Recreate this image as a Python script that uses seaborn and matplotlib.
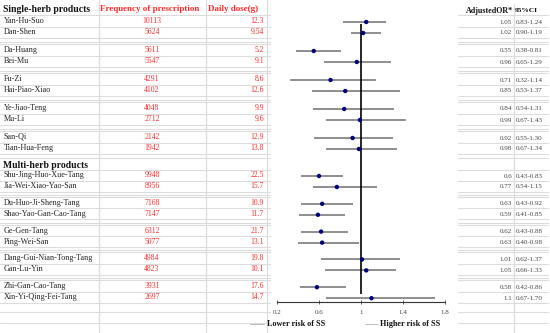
import matplotlib.pyplot as plt
import seaborn as sns
import pandas as pd

# Table data
single_names = ['Yan-Hu-Suo', 'Dan-Shen', 'Da-Huang', 'Bei-Mu', 'Fu-Zi',
                'Hai-Piao-Xiao', 'Ye-Jiao-Teng', 'Mu-Li', 'San-Qi', 'Tian-Hua-Feng']
single_freq = [10113, 5624, 5611, 5547, 4291, 4102, 4048, 2712, 2142, 1942]
single_dose = ['12.3', '9.54', '5.2', '9.1', '8.6', '12.6', '9.9', '9.6', '12.9', '13.8']
single_or = ['1.05', '1.02', '0.55', '0.96', '0.71', '0.85', '0.84', '0.99', '0.92', '0.98']
single_ci = ['0.83-1.24', '0.90-1.19', '0.38-0.81', '0.65-1.29', '0.32-1.14',
             '0.53-1.37', '0.54-1.31', '0.67-1.43', '0.55-1.30', '0.67-1.34']

multi_names = ['Shu-Jing-Huo-Xue-Tang', 'Jia-Wei-Xiao-Yao-San', 'Du-Huo-Ji-Sheng-Tang',
               'Shao-Yao-Gan-Cao-Tang', 'Ge-Gen-Tang', 'Ping-Wei-San',
               'Dang-Gui-Nian-Tong-Tang', 'Gan-Lu-Yin', 'Zhi-Gan-Cao-Tang', 'Xin-Yi-Qing-Fei-Tang']
multi_freq = [9948, 8956, 7168, 7147, 6312, 5077, 4984, 4823, 3931, 2697]
multi_dose = ['22.5', '15.7', '10.9', '11.7', '21.7', '13.1', '19.8', '10.1', '17.6', '14.7']
multi_or = ['0.6', '0.77', '0.63', '0.59', '0.62', '0.63', '1.01', '1.05', '0.58', '1.1']
multi_ci = ['0.43-0.83', '0.54-1.15', '0.43-0.92', '0.41-0.85', '0.43-0.88',
            '0.40-0.98', '0.62-1.37', '0.66-1.33', '0.42-0.86', '0.67-1.70']

ticks = [0.2, 0.6, 1, 1.4, 1.8]
tick_labels = ['0.2', '0.6', '1', '1.4', '1.8']

sns.set_theme(style='white')
plt.rcParams['font.family'] = ['Liberation Serif', 'DejaVu Serif']

RED = '#ff2b2b'
GRID = '#dcdcdc'


# row positions in pixels: pairs of rows separated by a gap row
def row_positions(start, pitch, inner=11):
    return [start + pitch * g + k * inner for g in range(5) for k in range(2)]


single_y = row_positions(21, 29)
multi_y = row_positions(175, 27.8)

rows = pd.DataFrame({
    'name': single_names + multi_names,
    'freq': single_freq + multi_freq,
    'dose': single_dose + multi_dose,
    'or_txt': single_or + multi_or,
    'ci': single_ci + multi_ci,
    'y': single_y + multi_y,
})
rows['OR'] = rows['or_txt'].astype(float)
rows['lo'] = rows['ci'].str.split('-').str[0].astype(float)
rows['hi'] = rows['ci'].str.split('-').str[1].astype(float)

fig = plt.figure(figsize=(5.5, 3.33), dpi=100)
fig.patch.set_facecolor('white')

# table layer, pixel coordinates
ax = fig.add_axes([0, 0, 1, 1])
ax.set_xlim(0, 550)
ax.set_ylim(333, 0)
ax.axis('off')

# grid lines
hlines = [15, 158, 170, 312, 323]
for ys in (single_y, multi_y):
    for g in range(5):
        first = ys[2 * g]
        if g > 0:
            hlines += [first - 8, first - 6]
        hlines += [first + 5.5, ys[2 * g + 1] + 5.5]
for y in hlines:
    ax.plot([0, 270], [y, y], color=GRID, lw=0.8, zorder=1)
    ax.plot([458, 548], [y, y], color=GRID, lw=0.8, zorder=1)
for x in [99, 206, 267]:
    ax.plot([x, x], [0, 333], color=GRID, lw=0.9, zorder=1)
ax.plot([514, 514], [4, 333], color=GRID, lw=0.9, zorder=1)

# headers
ax.text(3, 9, 'Single-herb products', fontsize=6.9, fontweight='bold', color='#111', va='center')
ax.text(3, 166, 'Multi-herb products', fontsize=6.9, fontweight='bold', color='#111', va='center')
ax.text(100, 9, 'Frequency of prescription', fontsize=6.5, fontweight='bold', color=RED, va='center')
ax.text(208, 9, 'Daily dose(g)', fontsize=6.5, fontweight='bold', color=RED, va='center')
ax.text(513, 11, 'AdjustedOR*', fontsize=5.8, fontweight='bold', color='#111', va='center', ha='right')
ax.text(515, 11, '95%CI', fontsize=5.3, fontweight='bold', color='#111', va='center', ha='left')

for _, r in rows.iterrows():
    ax.text(4, r['y'], r['name'], fontsize=5.9, color='#222', va='center')
    ax.text(152, r['y'], str(r['freq']), fontsize=5.5, color=RED, va='center', ha='center')
    ax.text(264, r['y'], r['dose'], fontsize=5.5, color=RED, va='center', ha='right')
    ax.text(512, r['y'] + 1, r['or_txt'], fontsize=5, color='#444', va='center', ha='right')
    ax.text(516, r['y'] + 1, r['ci'], fontsize=5, color='#444', va='center', ha='left')

# risk labels
ax.plot([250, 264], [324, 324], color='#bbbbbb', lw=0.7)
ax.plot([365, 378], [324, 324], color='#bbbbbb', lw=0.7)
ax.text(267, 324, 'Lower risk of SS', fontsize=5.9, fontweight='bold', color='#111', va='center')
ax.text(380, 324, 'Higher risk of SS', fontsize=5.9, fontweight='bold', color='#111', va='center')

# forest plot layer
axf = fig.add_axes([277 / 550, 1 - 302 / 333, 168 / 550, 302 / 333])
axf.patch.set_alpha(0)
axf.set_xlim(0.2, 1.8)
axf.set_ylim(302, 0)
axf.hlines(rows['y'] + 1, rows['lo'], rows['hi'], color='#707070', lw=1.1, zorder=2)
axf.vlines(1, 24, 294, color='black', lw=1.2, zorder=2)
sns.scatterplot(data=rows.assign(yp=rows['y'] + 1), x='OR', y='yp', ax=axf,
                color='#00007a', s=10, edgecolor='none', zorder=3, legend=False)
axf.set_xlabel('')
axf.set_ylabel('')
axf.set_yticks([])
axf.set_xticks(ticks)
axf.set_xticklabels(tick_labels)
axf.tick_params(axis='x', direction='inout', length=3, width=0.6, colors='#444',
                labelsize=5, pad=4, bottom=True)
for side in ['top', 'right', 'left']:
    axf.spines[side].set_visible(False)
axf.spines['bottom'].set_color('#333333')
axf.spines['bottom'].set_linewidth(0.8)

fig.savefig('out.png', dpi=100, facecolor='white')
